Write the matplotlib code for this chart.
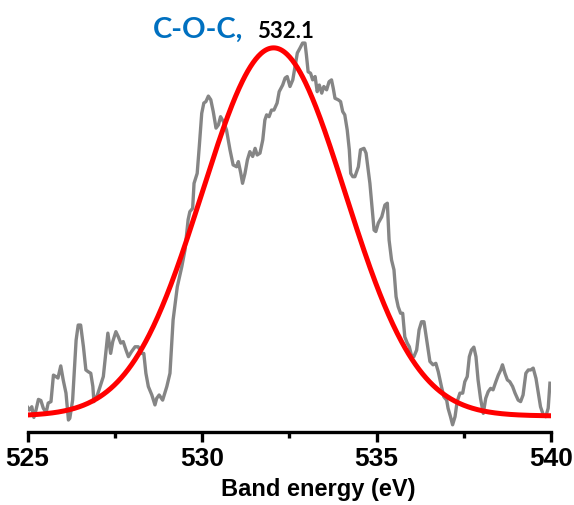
import numpy as np
import matplotlib
matplotlib.use("Agg")
import matplotlib.pyplot as plt
from matplotlib.ticker import MultipleLocator

# Спектр O1s (энергия связи, эВ) и интенсивность (отн. ед.)
energy = [524.99, 525.05, 525.12, 525.18, 525.24, 525.31, 525.38, 525.45, 525.53, 525.59,
          525.67, 525.74, 525.81, 525.87, 525.95, 526.02, 526.10, 526.17, 526.21, 526.29,
          526.39, 526.45, 526.52, 526.60, 526.67, 526.74, 526.81, 526.87, 526.90, 527.00,
          527.12, 527.17, 527.25, 527.30, 527.38, 527.44, 527.53, 527.60, 527.67, 527.74,
          527.82, 527.89, 527.98, 528.08, 528.17, 528.27, 528.33, 528.39, 528.46, 528.56,
          528.65, 528.70, 528.77, 528.87, 528.99, 529.08, 529.17, 529.29, 529.42, 529.51,
          529.60, 529.65, 529.73, 529.77, 529.86, 529.92, 529.99, 530.05, 530.11, 530.18,
          530.25, 530.32, 530.40, 530.47, 530.53, 530.61, 530.70, 530.80, 530.89, 530.99,
          531.04, 531.11, 531.16, 531.23, 531.30, 531.37, 531.45, 531.52, 531.58, 531.66,
          531.74, 531.80, 531.85, 531.92, 531.99, 532.06, 532.15, 532.21, 532.31, 532.38,
          532.44, 532.52, 532.60, 532.66, 532.73, 532.81, 532.88, 532.95, 532.99, 533.04,
          533.11, 533.17, 533.24, 533.30, 533.36, 533.43, 533.49, 533.57, 533.64, 533.71,
          533.76, 533.81, 533.90, 533.97, 534.03, 534.09, 534.16, 534.22, 534.26, 534.32,
          534.38, 534.48, 534.54, 534.64, 534.70, 534.76, 534.81, 534.86, 534.93, 534.98,
          535.05, 535.15, 535.24, 535.31, 535.36, 535.43, 535.50, 535.56, 535.62, 535.69,
          535.75, 535.81, 535.88, 535.94, 536.01, 536.07, 536.15, 536.22, 536.29, 536.36,
          536.44, 536.53, 536.62, 536.70, 536.77, 536.86, 536.93, 537.01, 537.05, 537.12,
          537.18, 537.25, 537.31, 537.39, 537.47, 537.53, 537.60, 537.66, 537.72, 537.79,
          537.85, 537.91, 537.98, 538.06, 538.13, 538.20, 538.27, 538.34, 538.42, 538.49,
          538.56, 538.61, 538.68, 538.75, 538.82, 538.90, 538.97, 539.06, 539.13, 539.20,
          539.28, 539.35, 539.42, 539.49, 539.57, 539.63, 539.70, 539.78, 539.85, 539.92,
          539.97]
intensity = [2.5, 1.6, 2.5, -0.4, 1.6, 4.5, 4.2, 2.1, 0.9, 3.5,
             3.9, 11.1, 10.7, 10.3, 13.6, 9.8, 6.2, -1.1, -0.6, 4.3,
             20.6, 24.7, 24.7, 18.8, 12.5, 12.0, 11.6, 8.0, 3.9, 5.7,
             9.3, 10.7, 17.9, 22.5, 17.0, 20.2, 22.9, 21.5, 19.8, 20.2,
             17.9, 16.1, 17.5, 18.8, 18.8, 17.0, 17.0, 11.6, 8.0, 5.7,
             3.0, 4.8, 5.7, 4.3, 8.0, 11.6, 26.1, 35.1, 40.6, 45.1,
             53.3, 55.5, 56.4, 63.2, 65.9, 73.2, 82.2, 85.0, 85.4, 86.9,
             85.9, 82.7, 78.2, 79.1, 81.3, 80.0, 77.7, 72.3, 68.2, 67.7,
             69.1, 65.9, 63.2, 65.9, 69.6, 71.8, 70.5, 72.7, 70.9, 71.4,
             75.0, 80.4, 81.8, 81.3, 83.1, 83.1, 85.0, 88.1, 89.9, 91.8,
             92.2, 89.5, 91.3, 94.6, 98.6, 100.0, 101.3, 101.3, 98.1, 93.5,
             93.1, 91.3, 92.2, 88.1, 89.9, 87.7, 89.5, 88.6, 90.8, 91.3,
             89.0, 86.3, 85.9, 85.4, 82.7, 81.8, 77.7, 72.3, 65.9, 65.0,
             65.0, 67.7, 72.3, 72.7, 71.4, 66.8, 63.2, 57.8, 50.5, 50.1,
             52.4, 54.1, 57.3, 57.8, 47.8, 42.4, 39.7, 32.4, 29.7, 27.9,
             27.9, 21.5, 19.8, 18.8, 16.1, 16.1, 17.9, 23.4, 25.6, 25.6,
             20.6, 14.8, 13.9, 14.3, 12.0, 8.0, 5.2, 4.3, 2.1, -0.2,
             -2.4, -0.2, 3.9, 6.2, 6.2, 9.3, 10.7, 16.1, 17.9, 18.7,
             16.1, 9.8, 4.8, 0.7, 4.8, 6.6, 7.5, 7.1, 9.3, 11.1,
             12.5, 13.9, 11.6, 9.8, 9.3, 8.0, 6.2, 4.3, 3.9, 5.7,
             11.6, 12.5, 12.5, 13.0, 10.2, 6.6, 2.5, 0.3, -0.2, 2.1,
             8.9]

# Параметры гауссовой компоненты C-O-C
peak_center = 532.05
peak_sigma = 2.05
peak_amp = 100.0

xfit = np.linspace(525, 540, 600)
yfit = peak_amp * np.exp(-0.5 * ((xfit - peak_center) / peak_sigma) ** 2)

fig = plt.figure(figsize=(5.74, 5.05), dpi=100)
ax = fig.add_axes([0.0481, 0.1446, 0.9118, 0.8554])

ax.plot(energy, intensity, color="#858585", lw=2.4, zorder=2)
ax.plot(xfit, yfit, color="#ff0000", lw=3.6, zorder=3)

ax.set_xlim(525, 540)
ax.set_ylim(-4.35, 113.0)

for s in ["top", "right", "left"]:
    ax.spines[s].set_visible(False)
ax.spines["bottom"].set_linewidth(2.4)
ax.set_yticks([])

fam = ["Liberation Sans", "DejaVu Sans"]
ax.xaxis.set_major_locator(MultipleLocator(5))
ax.xaxis.set_minor_locator(MultipleLocator(2.5))
ax.tick_params(axis="x", which="major", direction="out", length=7.5, width=2.4, pad=3.5)
ax.tick_params(axis="x", which="minor", direction="out", length=4.5, width=2.4)
ax.set_xticks([525, 530, 535, 540])
ax.set_xticklabels(["525", "530", "535", "540"], fontsize=19, fontweight="bold", family=fam)

fig.text(0.554, 0.018, "Band energy (eV)", ha="center", va="baseline",
         fontsize=17, fontweight="bold", family=fam)

ax.text(528.59, 102.7, "C-O-C,", color="#0070c0", fontsize=21, fontweight="bold",
        family=["Lato", "DejaVu Sans"], ha="left", va="baseline")
ax.text(531.57, 102.7, "532.1", color="black", fontsize=16, fontweight="bold",
        family=["Lato", "DejaVu Sans"], ha="left", va="baseline")

fig.savefig("out.png", dpi=100)
